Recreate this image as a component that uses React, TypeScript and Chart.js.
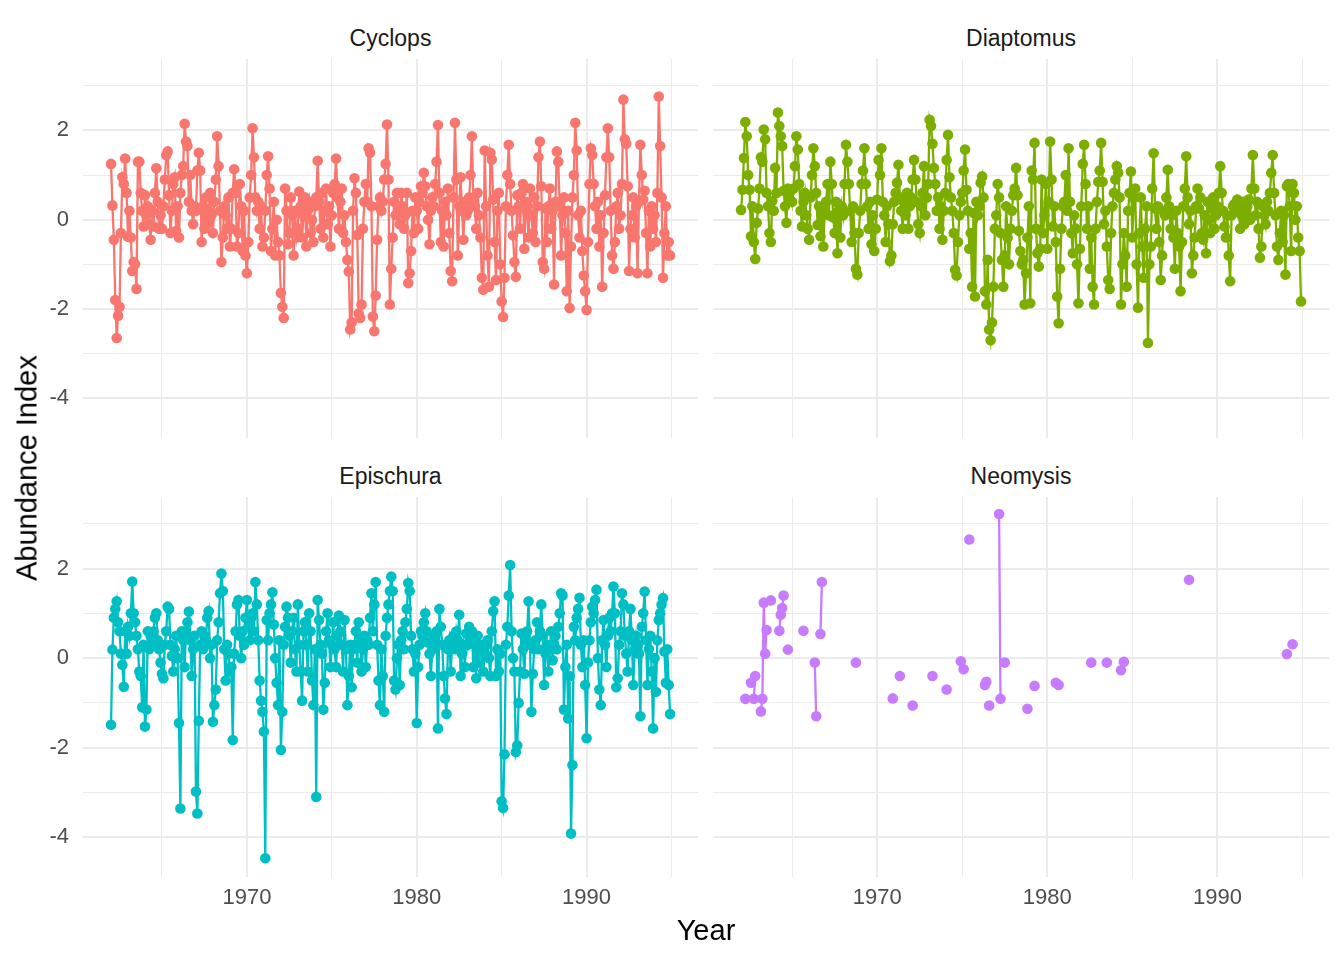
import React, { useEffect, useRef } from 'react';
import Chart from 'chart.js/auto';

// monthly abundance index, Jan 1962 .. Dec 1994 (one row per year)
const START_YEAR = 1962;

const cyclops: number[] = [
  1.25, 0.32, -0.45, -1.8, -2.65, -2.15, -1.95, -0.3, 0.95, 0.8, 1.37, 0.6, // 1962
  -0.38, 0.2, -0.4, -1.15, -0.95, -1.0, -1.55, 1.3, 1.3, 0.6, 0.2, -0.15, // 1963
  0.55, 0.1, 0.3, -0.1, -0.45, 0.2, -0.15, 0.6, 1.15, 0.4, -0.2, 0.1, // 1964
  -0.2, 0.3, 0.9, 1.45, 1.53, 0.55, -0.3, 0.2, 0.8, 0.95, -0.25, 0.3, // 1965
  -0.4, 0.6, 1.0, 1.2, 2.15, 1.75, 1.65, 0.4, 1.0, 0.2, -0.1, 0.3, // 1966
  0.2, 1.1, 1.5, 1.1, -0.5, 0.3, -0.2, 0.5, -0.1, 0.2, 0.6, 0.1, // 1967
  -0.3, 0.4, 0.9, 1.87, 1.2, 0.2, -0.95, -0.4, 0.3, 0.1, -0.2, 0.5, // 1968
  -0.6, -0.2, 0.6, 1.13, 0.6, -0.6, -0.3, 0.8, 0.3, -0.7, 0.2, -0.8, // 1969
  -1.2, -0.5, 0.5, 1.0, 2.05, 1.4, 0.5, 0.2, 0.4, -0.2, 0.3, -0.6, // 1970
  -0.4, 0.2, 1.0, 1.42, 0.7, -0.7, -0.2, 0.4, -0.8, 0.0, -0.5, -0.8, // 1971
  -1.64, -1.95, -2.2, 0.7, 0.2, -0.55, -0.3, 0.5, 0.1, -0.8, 0.2, -0.4, // 1972
  -0.2, 0.63, 0.3, -0.4, 0.1, 0.5, -0.6, 0.2, 0.4, -0.3, 0.0, -0.5, // 1973
  0.3, 0.5, 1.32, 0.4, -0.2, 0.6, -0.4, 0.2, 0.7, -0.1, 0.3, -0.6, // 1974
  0.1, 0.6, 0.8, 1.37, 0.5, -0.2, 0.4, 0.7, -0.3, 0.1, -0.5, -0.9, // 1975
  -1.16, -2.46, -2.3, 0.2, 0.93, 0.6, -0.34, -2.1, -2.2, -1.9, -0.2, 0.4, // 1976
  0.8, 0.4, 1.6, 1.5, 0.3, -2.17, -2.5, -1.7, -0.45, 0.3, 0.5, 0.2, // 1977
  0.4, 0.9, 1.25, 2.13, 0.9, -1.9, -1.1, -0.4, 0.4, 0.1, 0.6, 0.3, // 1978
  -0.1, 0.6, 0.3, -0.2, 0.1, 0.6, -1.42, -1.2, -0.7, 0.2, -0.3, 0.5, // 1979
  0.2, -0.2, 0.4, 0.75, 0.6, 1.05, 0.75, 0.3, 0.0, -0.55, 0.2, 0.5, // 1980
  0.3, 0.8, 1.3, 2.12, 0.6, -0.5, 0.2, -0.6, 0.4, 0.1, 0.7, -0.3, // 1981
  -1.15, -1.38, 0.5, 2.17, 0.9, -0.8, 0.3, 0.95, 0.2, -0.45, 0.4, 0.1, // 1982
  0.2, 0.5, 1.0, 1.87, 0.4, 0.3, -0.2, 0.6, 0.1, -0.4, -1.3, -1.57, // 1983
  1.55, 0.3, -0.8, -1.5, 1.5, 1.35, 0.45, -0.5, -1.35, 0.2, 0.6, -1.0, // 1984
  -1.83, -2.18, -1.3, 0.3, 1.0, 1.68, 0.8, 0.2, -0.35, -0.95, -1.28, 0.55, // 1985
  0.3, -0.2, 0.6, 0.8, -0.65, 0.4, 0.2, -0.4, 0.7, 0.1, -0.3, 0.5, // 1986
  -0.5, 0.3, 1.4, 1.75, 0.75, -0.95, -1.1, 0.25, -0.5, 0.3, 0.7, -0.2, // 1987
  0.2, -1.45, 0.4, 1.53, 1.3, 0.3, -0.8, 0.1, 0.5, -0.3, -1.6, 0.2, // 1988
  -1.98, -0.6, 0.5, 1.0, 2.17, 1.55, 0.1, -0.4, 0.2, -0.7, -1.25, -1.6, // 1989
  -2.02, -0.5, 0.8, 1.6, 1.45, 0.8, 0.3, -0.2, 0.4, -0.6, 0.1, -1.5, // 1990
  -0.3, 0.55, 1.4, 2.05, 1.4, 0.2, -0.8, -1.1, -0.5, 0.3, 0.6, -0.2, // 1991
  0.1, 0.8, 2.69, 1.8, 1.7, 0.75, -1.15, -0.2, 0.1, 0.5, -0.4, 0.3, // 1992
  -1.2, 0.4, 1.68, 1.0, 0.45, 0.65, -0.3, -1.2, 0.2, -0.6, 0.3, -0.2, // 1993
  0.1, -0.5, 0.6, 2.76, 1.65, 0.5, -1.3, -0.3, 0.3, -0.8, -0.5, -0.8, // 1994
];

const diaptomus: number[] = [
  0.22, 0.67, 1.38, 2.19, 1.87, 1.0, 0.67, -0.37, 0.3, -0.5, -0.88, -0.07, // 1962
  0.25, 0.7, 1.4, 1.3, 2.02, 1.8, 0.6, 0.3, -0.3, -0.5, 0.42, 0.2, // 1963
  1.16, 0.6, 2.4, 2.1, 1.87, 1.65, 0.65, 0.3, -0.07, 0.7, 0.5, 0.65, // 1964
  0.4, 0.7, 1.2, 1.87, 1.57, 0.8, 0.2, -0.15, 0.4, 0.6, 0.1, -0.2, // 1965
  -0.45, 0.5, 1.0, 1.6, 1.2, 0.6, -0.12, 0.3, -0.37, 0.1, -0.6, 0.2, // 1966
  0.4, 0.8, 0.1, 1.3, 0.8, 0.05, -0.3, 0.4, -0.75, 0.2, -0.4, 0.3, // 1967
  0.1, 0.8, 1.68, 1.3, 0.8, 0.2, -0.5, 0.3, -0.3, -1.1, -1.23, -0.3, // 1968
  0.2, 0.8, 1.1, 1.6, 0.8, 0.3, -0.2, 0.4, -0.55, 0.1, -0.7, -0.2, // 1969
  0.45, 1.34, 1.0, 1.6, 0.4, 0.1, -0.5, 0.3, -0.1, -0.93, -0.8, -0.1, // 1970
  0.4, 0.6, 0.83, 1.23, 0.5, 0.2, -0.2, 0.4, 0.1, 0.6, -0.2, 0.3, // 1971
  0.5, 0.9, 1.34, 0.9, 0.4, -0.1, -0.3, 0.3, 0.6, 1.2, 0.1, 0.5, // 1972
  0.8, 2.24, 2.1, 1.7, 1.16, 0.8, 0.2, 0.5, -0.2, 0.3, -0.45, 0.2, // 1973
  0.6, 1.34, 1.9, 0.95, 0.5, 0.2, -0.3, -1.12, -1.25, -0.5, 0.1, 0.4, // 1974
  0.6, 1.1, 1.57, 0.67, 0.2, -0.65, -0.3, -1.5, 0.15, -1.72, 0.4, 0.1, // 1975
  0.3, 0.83, 0.97, 0.5, -1.6, -1.9, -0.9, -2.46, -2.7, -2.3, -1.5, -0.2, // 1976
  0.1, 0.8, 0.5, -0.3, -0.9, -1.5, -0.8, 0.3, -0.4, -1.0, -0.2, 0.2, // 1977
  0.55, 0.7, 1.16, 0.55, -0.25, -0.7, -1.0, -0.9, -1.9, -1.2, -0.4, 0.3, // 1978
  -1.87, 1.1, 0.9, 1.72, -0.2, -0.75, -1.05, -0.65, 0.9, -0.3, 0.1, 0.8, // 1979
  -0.65, 0.4, 1.75, 0.9, -0.15, 0.3, -0.5, -1.72, -2.32, -1.1, -0.2, 0.3, // 1980
  0.4, 1.0, 0.2, 1.6, 0.4, -0.3, -0.75, 0.1, -0.2, -1.0, -1.87, -0.65, // 1981
  0.3, 1.25, 1.68, 0.8, -0.2, 0.3, -1.1, -0.4, -1.5, -1.9, -0.2, 0.4, // 1982
  0.85, 1.1, 1.72, 0.85, -0.1, 0.2, -0.6, -1.35, -1.55, -0.3, 0.3, 0.6, // 1983
  0.9, 1.2, 1.05, 0.5, -1.9, -1.0, -0.3, -0.8, -1.5, 0.2, 0.6, 1.08, // 1984
  -0.4, 0.5, 0.7, -1.0, -1.97, -0.3, 0.5, -0.6, -1.3, -0.2, 0.3, -2.76, // 1985
  -1.0, -0.6, 0.7, 1.49, 0.25, -0.2, 0.3, -0.5, -1.35, -0.8, 0.2, 0.1, // 1986
  0.5, 1.12, 0.3, -0.2, 0.1, -0.4, -1.1, 0.2, -0.3, -0.6, -1.6, -0.5, // 1987
  0.3, 0.7, 1.42, 0.5, -0.1, 0.2, -1.2, -0.8, -0.4, 0.3, 0.7, 0.25, // 1988
  0.5, -0.3, -0.45, 0.1, -0.75, 0.4, 0.0, -0.3, 0.25, 0.5, -0.2, 0.1, // 1989
  0.3, 0.6, 1.2, 0.6, 0.2, -0.15, -0.4, 0.1, -0.8, -1.38, 0.1, 0.3, // 1990
  0.35, 0.2, 0.45, 0.3, -0.2, 0.1, 0.4, -0.1, 0.2, 0.3, 0.45, 0.0, // 1991
  0.7, 1.45, 0.7, 0.1, 0.4, -0.2, -0.85, -0.6, 0.3, 0.1, -0.1, 0.4, // 1992
  0.2, 0.6, 1.05, 1.45, 0.6, 0.1, -0.6, -0.9, -0.3, 0.2, -0.5, 0.1, // 1993
  -1.23, 0.75, 0.8, 0.3, -0.7, 0.8, 0.6, 0.0, 0.3, -0.4, -0.7, -1.83, // 1994
];

const epischura: number[] = [
  -1.49, 0.19, 0.9, 1.1, 1.27, 0.8, 0.6, 0.1, -0.15, -0.64, 0.6, 0.1, // 1962
  0.7, 0.5, 1.0, 1.71, 1.0, 0.8, 0.5, 0.2, -0.3, -0.4, -1.1, 0.3, // 1963
  -1.53, -1.15, 0.6, 0.2, 0.5, 0.3, 0.6, 0.9, 1.0, 0.4, 0.2, -0.1, // 1964
  -0.35, -0.45, 0.3, 0.6, 1.15, 1.1, 0.3, 0.05, -0.3, 0.2, 0.5, 0.0, // 1965
  -1.45, -3.36, 0.6, 0.4, -0.2, 0.6, 0.8, 1.04, 0.4, -0.4, 0.2, 0.5, // 1966
  -2.98, -3.47, -1.4, 0.3, 0.6, 0.2, 0.5, 0.4, 0.9, 1.05, 0.0, 0.3, // 1967
  -1.42, -1.05, -0.7, 0.4, 0.8, 1.45, 1.89, 1.5, 0.2, -0.5, 0.3, 0.1, // 1968
  -0.3, -0.2, -1.83, 0.1, 0.6, 1.2, 1.3, 0.5, 0.0, 0.6, 0.3, 0.9, // 1969
  1.3, 0.7, 0.4, 0.9, 1.0, 0.6, 1.7, 1.2, 0.4, -0.5, -0.95, -1.2, // 1970
  -1.64, -4.47, 0.85, 0.4, 1.0, 1.2, 1.47, 0.75, 0.0, -0.55, -1.05, 0.4, // 1971
  -2.05, -1.2, 0.3, 0.7, 1.15, 0.9, 0.5, -0.1, 0.6, 0.9, 0.2, -0.3, // 1972
  1.2, 0.3, -0.3, -0.95, 0.6, 0.8, 0.3, -0.3, 1.0, 0.6, -0.5, -1.05, // 1973
  0.2, -3.1, 1.3, 0.85, 0.3, 0.1, -1.15, -0.55, 0.6, 1.0, 0.4, -0.2, // 1974
  0.3, 0.8, 0.2, -0.2, 0.5, 0.95, 0.6, 0.3, -0.3, 0.85, 0.2, -1.05, // 1975
  -0.4, 0.3, -0.65, 0.2, 0.3, 0.6, -0.1, 0.8, 0.4, -0.3, 0.2, 0.5, // 1976
  -0.2, 0.4, 0.3, 0.9, 1.45, 0.6, 1.2, 1.7, 0.3, -0.5, -1.05, 0.2, // 1977
  -0.4, -1.2, 0.5, 0.9, 1.2, 1.5, 1.82, 1.5, -0.5, -0.7, 0.0, 0.3, // 1978
  -0.6, 0.4, 0.6, 0.2, 0.8, 1.1, 1.68, 1.5, 0.5, 0.2, -0.3, 0.1, // 1979
  -1.45, -0.2, 0.3, 0.6, 0.5, 0.8, 1.0, 0.6, 0.35, 0.1, -0.4, 0.2, // 1980
  0.5, 0.3, 0.6, -1.57, 1.1, 0.7, 0.3, -0.4, -0.9, -1.25, 0.2, 0.4, // 1981
  -0.3, 0.3, 0.5, 0.2, 0.6, 0.4, 0.97, -0.4, 0.1, 0.3, -0.2, 0.55, // 1982
  0.3, 0.7, 0.4, 0.6, -0.2, 0.3, -0.45, 0.5, -0.1, 0.3, 0.2, -0.3, // 1983
  0.1, 0.3, 0.4, 0.0, -0.4, 0.6, 1.05, 1.27, -0.4, 0.2, -0.3, 0.1, // 1984
  -3.2, -3.35, -2.15, 0.3, 0.7, 1.4, 2.08, 0.6, 0.0, -0.3, -2.1, -1.95, // 1985
  -1.0, -0.3, 0.55, 0.2, -0.35, 0.4, 0.6, 1.27, 0.3, -1.2, -0.35, 0.2, // 1986
  0.4, 0.8, 0.2, 0.6, 1.2, 0.5, -0.6, 0.1, 0.3, -0.3, 0.2, 0.6, // 1987
  -0.05, 0.3, 0.5, 0.2, 0.7, 1.0, 1.45, 1.4, -1.15, -0.2, 0.3, -1.35, // 1988
  -0.4, -3.92, -2.39, 0.7, 0.4, 0.9, 1.1, 1.35, 0.3, -0.2, 0.4, -0.6, // 1989
  -1.79, -0.1, 0.4, 0.8, 1.15, 1.0, 1.3, 1.53, 0.0, -0.7, -1.05, 0.4, // 1990
  0.85, 0.3, -0.2, 0.5, 0.9, 0.6, 1.0, 1.6, 1.0, -0.65, -0.45, 0.3, // 1991
  0.6, 1.45, 1.2, 0.5, 0.1, -0.3, 0.6, 1.1, 0.4, -0.6, 0.2, 0.5, // 1992
  0.3, 0.1, -1.3, 0.7, 1.0, 1.49, 0.4, -0.6, 0.2, 0.5, -0.3, -1.57, // 1993
  0.0, -0.75, 0.4, 0.85, 1.0, 1.2, 1.34, 0.15, -0.55, 0.2, -0.6, -1.25, // 1994
];

// Neomysis is only sampled in some months (month index counted from Jan 1962)
const neomysisMonths: number[] = [
  3, 7, 9, 10, 14, 15, 16, 17, 18, 21, 27, 28, 29, 30, 33, 44, 52, 53, 56, 57,
  81, 107, 112, 121, 135, 145, 155, 157, 161, 172, 173, 175, 182, 183, 186,
  202, 207, 222, 224, 247, 258, 268, 270, 316, 385, 389,
];
const neomysisValues: number[] = [
  -0.91, -0.55, -0.91, -0.4, -1.19, -0.91, 1.24, 0.1, 0.63, 1.29, 0.61, 0.97, 1.12, 1.4, 0.19, 0.61, -0.1, -1.3, 0.54, 1.7,
  -0.1, -0.9, -0.4, -1.06, -0.4, -0.7, -0.07, -0.25, 2.65, -0.6, -0.53, -1.06, 3.22, -0.91, -0.1,
  -1.13, -0.62, -0.55, -0.6, -0.1, -0.1, -0.27, -0.08, 1.75, 0.09, 0.31,
];

const xGridYears = [1965, 1970, 1975, 1980, 1985, 1990, 1995];
const xLabelYears = [1970, 1980, 1990];
const yGridValues = [-4, -3, -2, -1, 0, 1, 2, 3];
const yLabelValues = [-4, -2, 0, 2];

const X_MIN = 1960.35;
const X_MAX = 1996.56;
const Y_MIN = -4.89;
const Y_MAX = 3.6;
const GRID = '#EBEBEB';
const FONT = "'Liberation Sans', Arial, Helvetica, sans-serif";

const N_MONTHS = cyclops.length;

const toPoints = (vals: (number | null)[]) =>
  vals.map((v, i) => ({ x: START_YEAR + i / 12, y: v }));

const neomysisSeries = (): (number | null)[] => {
  const out: (number | null)[] = new Array(N_MONTHS).fill(null);
  neomysisMonths.forEach((m, k) => { out[m] = neomysisValues[k]; });
  return out;
};

interface PanelProps {
  values: (number | null)[];
  color: string;
  showX: boolean;
  showY: boolean;
  left: number;
  top: number;
  width: number;
  height: number;
}

const Panel: React.FC<PanelProps> = ({ values, color, showX, showY, left, top, width, height }) => {
  const canvasRef = useRef<HTMLCanvasElement>(null);

  useEffect(() => {
    if (!canvasRef.current) return;
    const chart = new Chart(canvasRef.current, {
      type: 'scatter',
      data: {
        datasets: [{
          data: toPoints(values) as any,
          showLine: true,
          spanGaps: false,
          borderColor: color,
          borderWidth: 2.3,
          backgroundColor: color,
          pointBackgroundColor: color,
          pointBorderWidth: 0,
          pointRadius: 5.3,
          pointHoverRadius: 5.3,
        }],
      },
      options: {
        responsive: true,
        maintainAspectRatio: false,
        animation: false,
        layout: { padding: 0, autoPadding: false },
        plugins: { legend: { display: false }, tooltip: { enabled: false } },
        scales: {
          x: {
            type: 'linear',
            min: X_MIN,
            max: X_MAX,
            border: { display: false },
            grid: {
              color: GRID,
              drawTicks: false,
              lineWidth: (ctx: any) => (ctx.tick && ctx.tick.value % 10 === 0 ? 2 : 1),
            },
            afterBuildTicks: (axis: any) => {
              axis.ticks = xGridYears.map((v) => ({ value: v }));
            },
            afterFit: (axis: any) => {
              axis.height = showX ? 40 : 0;
              axis.paddingLeft = 0;
              axis.paddingRight = 0;
            },
            ticks: {
              display: showX,
              padding: 8,
              color: '#4D4D4D',
              font: { family: FONT, size: 22 },
              maxRotation: 0,
              autoSkip: false,
              callback: (v: any) => (xLabelYears.includes(Number(v)) ? String(v) : ''),
            },
          },
          y: {
            type: 'linear',
            min: Y_MIN,
            max: Y_MAX,
            border: { display: false },
            grid: {
              color: GRID,
              drawTicks: false,
              lineWidth: (ctx: any) => (ctx.tick && ctx.tick.value % 2 === 0 ? 2 : 1),
            },
            afterBuildTicks: (axis: any) => {
              axis.ticks = yGridValues.map((v) => ({ value: v }));
            },
            afterFit: (axis: any) => {
              axis.width = showY ? 53 : 0;
              axis.paddingTop = 0;
              axis.paddingBottom = 0;
            },
            ticks: {
              display: showY,
              padding: 14,
              color: '#4D4D4D',
              font: { family: FONT, size: 22 },
              autoSkip: false,
              callback: (v: any) => (yLabelValues.includes(Number(v)) ? String(v) : ''),
            },
          },
        },
      },
    });
    return () => chart.destroy();
  }, [values, color, showX, showY]);

  return (
    <div style={{ position: 'absolute', left, top, width, height }}>
      <canvas ref={canvasRef} />
    </div>
  );
};

const stripStyle = (cx: number, top: number): React.CSSProperties => ({
  position: 'absolute',
  left: cx - 150,
  top,
  width: 300,
  textAlign: 'center',
  fontSize: 23,
  lineHeight: '23px',
  color: '#1A1A1A',
  fontFamily: FONT,
});

const App: React.FC = () => {
  const neo = neomysisSeries();
  const leftCx = (83 + 698) / 2;
  const rightCx = (713 + 1329) / 2;

  return (
    <div style={{ position: 'absolute', left: 0, top: 0, width: 1344, height: 960, background: '#FFFFFF', fontFamily: FONT, overflow: 'hidden' }}>
      <div style={stripStyle(leftCx, 27)}>Cyclops</div>
      <div style={stripStyle(rightCx, 27)}>Diaptomus</div>
      <div style={stripStyle(leftCx, 465)}>Epischura</div>
      <div style={stripStyle(rightCx, 465)}>Neomysis</div>

      <Panel values={cyclops} color="#F8766D" showX={false} showY={true} left={30} top={59} width={668} height={379} />
      <Panel values={diaptomus} color="#7CAE00" showX={false} showY={false} left={713} top={59} width={616} height={379} />
      <Panel values={epischura} color="#00BFC4" showX={true} showY={true} left={30} top={497} width={668} height={420} />
      <Panel values={neo} color="#C77CFF" showX={true} showY={false} left={713} top={497} width={616} height={420} />

      <div style={{ position: 'absolute', left: 606, top: 916, width: 200, textAlign: 'center', fontSize: 29, lineHeight: '29px', color: '#000000' }}>
        Year
      </div>
      <div style={{ position: 'absolute', left: 27, top: 468, transform: 'translate(-50%, -50%) rotate(-90deg)', whiteSpace: 'nowrap', fontSize: 29, lineHeight: '29px', color: '#000000' }}>
        Abundance Index
      </div>
    </div>
  );
};

export default App;
